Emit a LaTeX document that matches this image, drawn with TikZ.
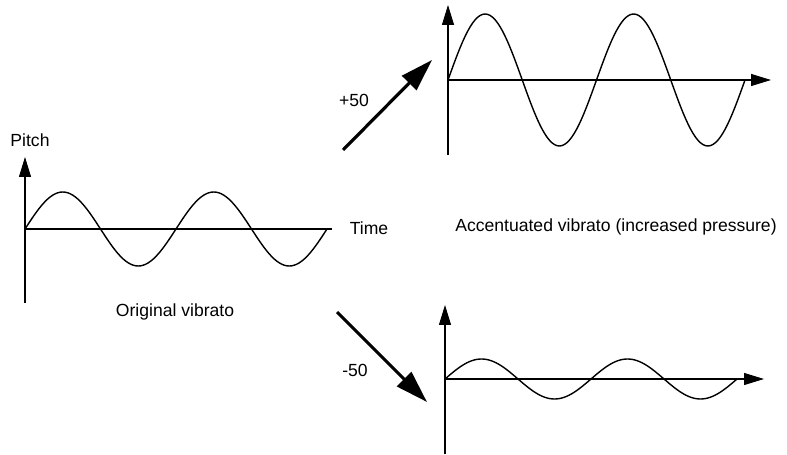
\documentclass[tikz,border=0pt]{standalone}
\usepackage{fontspec}
\setmainfont{Liberation Sans}
\usetikzlibrary{arrows.meta}

\tikzset{
  axis/.style={line width=0.6pt, -{Triangle[length=4mm,width=2.4mm]}},
  baseline/.style={line width=0.6pt},
  wave/.style={line width=0.8pt},
  shiftarrow/.style={line width=1.8pt, -{Triangle[length=6.5mm,width=4mm]}},
  lbl/.style={font=\fontsize{10}{12}\selectfont, inner sep=0pt}
}

\begin{document}
\begin{tikzpicture}[x=0.02cm, y=-0.02cm]
\useasboundingbox (0,0) rectangle (787,455);

%--------------------------------------------------
% Original vibrato
%--------------------------------------------------
\coordinate (O1) at (25,229);
\coordinate (B1) at (25,303);
\coordinate (T1) at (25,157);
\coordinate (E1) at (332,229);

\draw[axis] (B1) -- (T1);
\draw[baseline] (O1) -- (E1);
\draw[wave] plot[domain=0:302, samples=121]
  ({25+\x}, {229-37*sin(\x/151*360)});

\node[lbl] (pitch) at (30,140) {Pitch};
\node[lbl] (time) at (369,228) {Time};
\node[lbl] (orig) at (175,312) {Original vibrato};

%--------------------------------------------------
% Accentuated vibrato
%--------------------------------------------------
\coordinate (O2) at (448,80);
\coordinate (B2) at (448,155);
\coordinate (T2) at (448,5);
\coordinate (E2) at (771,80);

\draw[axis] (B2) -- (T2);
\draw[axis] (O2) -- (E2);
\draw[wave] plot[domain=0:297, samples=121]
  ({448+\x}, {80-66*sin(\x/148.5*360)});

\node[lbl] (accent) at (616,227) {Accentuated vibrato (increased pressure)};

%--------------------------------------------------
% Reduced vibrato
%--------------------------------------------------
\coordinate (O3) at (445,379);
\coordinate (B3) at (445,454);
\coordinate (T3) at (445,305);
\coordinate (E3) at (764,379);

\draw[axis] (B3) -- (T3);
\draw[axis] (O3) -- (E3);
\draw[wave] plot[domain=0:292, samples=121]
  ({445+\x}, {379-20*sin(\x/146*360)});

%--------------------------------------------------
% Shift arrows
%--------------------------------------------------
\coordinate (up start) at (343,150);
\coordinate (up end) at (432,60);
\draw[shiftarrow] (up start) -- (up end);
\node[lbl] (plus) at (354,100) {+50};

\coordinate (down start) at (337,312);
\coordinate (down end) at (427,402);
\draw[shiftarrow] (down start) -- (down end);
\node[lbl] (minus) at (355,370) {-50};

\end{tikzpicture}
\end{document}
